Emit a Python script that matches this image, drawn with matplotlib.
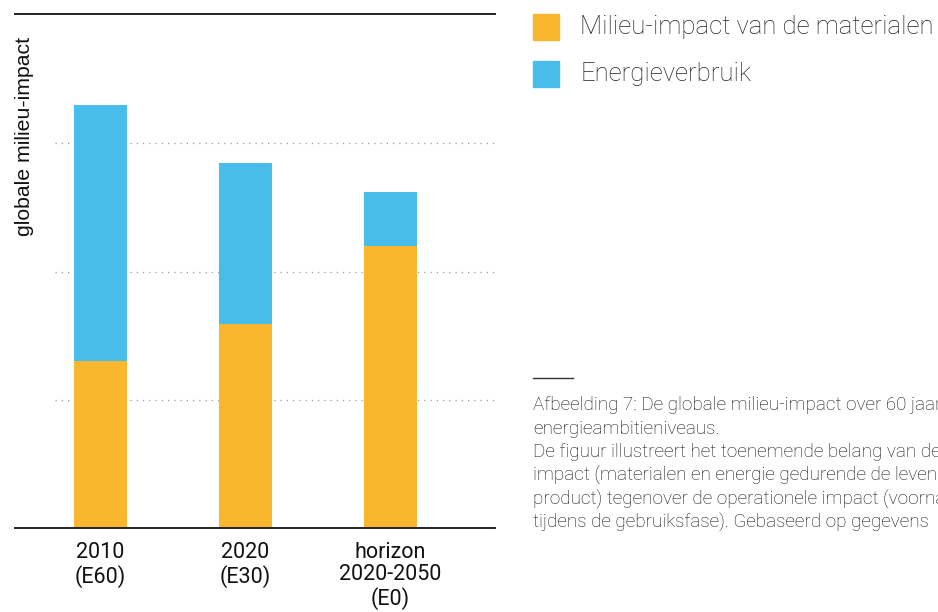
import matplotlib
matplotlib.use("Agg")
import matplotlib.pyplot as plt
from matplotlib.patches import Rectangle

# data (grid units: one dotted line = 1)
categories = ["2010\n(E60)", "2020\n(E30)", "horizon\n2020-2050\n(E0)"]
materialen = [1.30, 1.59, 2.20]
energie = [2.00, 1.26, 0.42]
legend_labels = ["Milieu-impact van de materialen", "Energieverbruik"]
caption_lines = [
    "Afbeelding 7: De globale milieu-impact over 60 jaar",
    "energieambitieniveaus.",
    "De figuur illustreert het toenemende belang van de",
    "impact (materialen en energie gedurende de levensduur",
    "product) tegenover de operationele impact (voornamelijk",
    "tijdens de gebruiksfase). Gebaseerd op gegevens",
]

ORANGE = "#F9B72F"
BLUE = "#48BDEC"

W, H = 938, 612
fig = plt.figure(figsize=(W / 100, H / 100), dpi=100)
ax = fig.add_axes([15 / W, 1 - 528 / H, 480 / W, 514 / H])

x = range(len(categories))
ax.bar(x, materialen, width=0.37, color=ORANGE, zorder=2)
ax.bar(x, energie, width=0.37, bottom=materialen, color=BLUE, zorder=2)

ax.set_xlim(-0.59, 2.72)
ax.set_ylim(0, 4.01)
for y in [1, 2, 3]:
    ax.axhline(y, xmin=40 / 480, xmax=1, color="#9a9a9a", lw=0.9,
               ls=(0, (1, 4)), zorder=1)

for s in ["left", "right"]:
    ax.spines[s].set_visible(False)
for s in ["top", "bottom"]:
    ax.spines[s].set_color("#222222")
    ax.spines[s].set_linewidth(1.4)

ax.set_yticks([])
ax.set_xticks(list(x))
ax.set_xticklabels(categories, fontsize=15.5, family="Roboto", color="#111111",
                   linespacing=1.1)
ax.tick_params(axis="x", length=0, pad=10)

fig.text(25 / W, 1 - 37 / H, "globale milieu-impact", rotation=90,
         ha="center", va="top", fontsize=15.3, family="Liberation Sans",
         color="#111111")

# legend
for i, (lab, col) in enumerate(zip(legend_labels, [ORANGE, BLUE])):
    y0 = 14 + i * 47
    fig.patches.append(Rectangle((533 / W, 1 - (y0 + 26) / H), 26 / W, 26 / H,
                                 transform=fig.transFigure, color=col))
    fig.text(580 / W, 1 - (y0 + 13) / H, lab, ha="left", va="center",
             fontsize=18.5, family="Roboto", fontweight="light", color="#222222")

# caption
fig.add_artist(plt.Line2D([533 / W, 573 / W], [1 - 378 / H, 1 - 378 / H],
                          transform=fig.transFigure, color="#333333", lw=1))
for i, line in enumerate(caption_lines):
    fig.text(533 / W, 1 - (405 + i * 23.6) / H, line, ha="left", va="center",
             fontsize=13.6, family="Roboto", fontweight="light", color="#111111")

fig.savefig("out.png", dpi=100)
